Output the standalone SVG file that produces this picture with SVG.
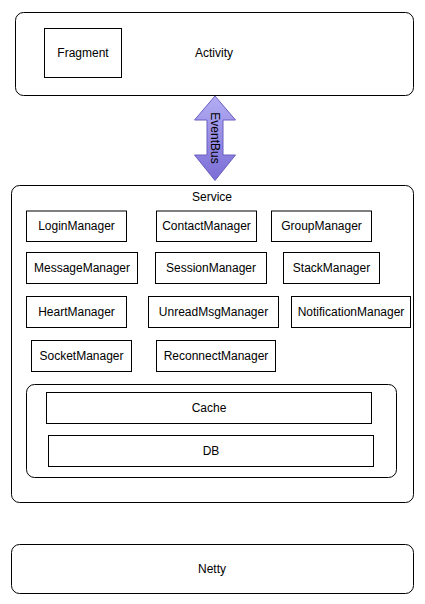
<svg xmlns="http://www.w3.org/2000/svg" width="425" height="604" viewBox="0 0 425 604">
<defs>
<linearGradient id="arrowGrad" x1="0" y1="0" x2="0" y2="1">
<stop offset="0" stop-color="#b3adf3"/>
<stop offset="1" stop-color="#7a6dd6"/>
</linearGradient>
<style>
.container{fill:#ffffff;stroke:#000000;stroke-width:1}
.box{fill:#ffffff;stroke:#000000;stroke-width:1}
.lbl{font-family:"Liberation Sans",Arial,Helvetica,sans-serif;font-size:12px;fill:#000000;text-anchor:middle;dominant-baseline:central}
</style>
</defs>
<rect width="425" height="604" fill="#ffffff"/>
<g id="activity">
<rect class="container" x="15.5" y="12.5" width="398" height="83" rx="8" ry="8"/>
<text class="lbl" x="214" y="53">Activity</text>
</g>
<g id="fragment">
<rect class="box" x="44.5" y="28.5" width="77" height="49"/>
<text class="lbl" x="83" y="53">Fragment</text>
</g>
<g id="connectors">
<g id="eventbus">
<path d="M215,96 L235.5,120 L223,120 L223,155 L235.5,155 L215,180.5 L194.5,155 L207,155 L207,120 L194.5,120 Z" fill="url(#arrowGrad)" stroke="#6a5fc0" stroke-width="1" stroke-linejoin="round"/>
<text class="lbl" transform="translate(215,138) rotate(90)" x="0" y="0">EventBus</text>
</g>
</g>
<g id="service">
<rect class="container" x="11.5" y="185.5" width="402" height="317" rx="8" ry="8"/>
<text class="lbl" x="212" y="197">Service</text>
</g>
<g id="loginManager"><rect class="box" x="26.5" y="211" width="100" height="30.5"/><text class="lbl" x="76.5" y="226">LoginManager</text></g>
<g id="contactManager"><rect class="box" x="156.5" y="211" width="100" height="30.5"/><text class="lbl" x="206.5" y="226">ContactManager</text></g>
<g id="groupManager"><rect class="box" x="271.5" y="211" width="100" height="30.5"/><text class="lbl" x="321.5" y="226">GroupManager</text></g>
<g id="messageManager"><rect class="box" x="26.5" y="252.5" width="111" height="31"/><text class="lbl" x="82" y="268">MessageManager</text></g>
<g id="sessionManager"><rect class="box" x="155.5" y="252.5" width="111" height="31"/><text class="lbl" x="211" y="268">SessionManager</text></g>
<g id="stackManager"><rect class="box" x="283.5" y="252.5" width="96" height="31"/><text class="lbl" x="331.5" y="268">StackManager</text></g>
<g id="heartManager"><rect class="box" x="26.5" y="296.5" width="100" height="31"/><text class="lbl" x="76.5" y="312">HeartManager</text></g>
<g id="unreadMsgManager"><rect class="box" x="148.5" y="296.5" width="130" height="31"/><text class="lbl" x="213.5" y="312">UnreadMsgManager</text></g>
<g id="notificationManager"><rect class="box" x="291.5" y="296.5" width="119" height="31"/><text class="lbl" x="351" y="312">NotificationManager</text></g>
<g id="socketManager"><rect class="box" x="31.5" y="340.5" width="100" height="31"/><text class="lbl" x="81.5" y="356">SocketManager</text></g>
<g id="reconnectManager"><rect class="box" x="156.5" y="340.5" width="119" height="31"/><text class="lbl" x="216" y="356">ReconnectManager</text></g>
<g id="storage">
<rect class="container" x="26.5" y="384.5" width="370" height="93" rx="8" ry="8"/>
</g>
<g id="cache"><rect class="box" x="46.5" y="392.5" width="325" height="31"/><text class="lbl" x="209" y="408">Cache</text></g>
<g id="db"><rect class="box" x="48.5" y="435.5" width="325" height="31"/><text class="lbl" x="211" y="451">DB</text></g>
<g id="netty">
<rect class="container" x="11.5" y="544.5" width="402" height="49" rx="8" ry="8"/>
<text class="lbl" x="212" y="569">Netty</text>
</g>
</svg>
